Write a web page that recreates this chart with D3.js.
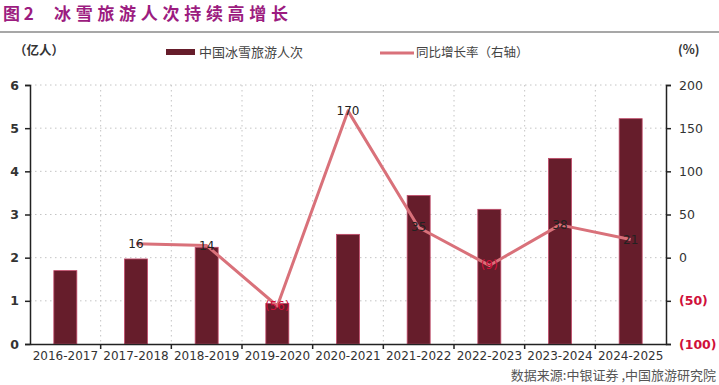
<!DOCTYPE html>
<html>
<head>
<meta charset="utf-8">
<script src="https://cdn.jsdelivr.net/npm/d3@7"></script>
<style>
  body { margin: 0; background: #fff; }
  svg { display: block; font-family: "Noto Sans CJK SC", "DejaVu Sans", sans-serif; }
</style>
</head>
<body>
<div id="chart"></div>
<script>
const seasons = ["2016-2017", "2017-2018", "2018-2019", "2019-2020", "2020-2021",
  "2021-2022", "2022-2023", "2023-2024", "2024-2025"];
const visitors = [1.7, 1.97, 2.24, 0.94, 2.54, 3.44, 3.12, 4.3, 5.22];
const growth = [null, 16, 14, -56, 170, 35, -9, 38, 21];
const leftTicks = [0, 1, 2, 3, 4, 5, 6];
const rightTicks = [-100, -50, 0, 50, 100, 150, 200];

const width = 719, height = 385;
const margin = { top: 85, right: 53, bottom: 41, left: 30 };

const svg = d3.select("#chart").append("svg")
  .attr("width", width).attr("height", height);

// title
svg.append("text").attr("x", 3).attr("y", 20)
  .attr("fill", "#9c1c80").attr("font-size", 17).attr("font-weight", "bold")
  .text("图 2");
svg.append("text").attr("x", 54).attr("y", 20)
  .attr("fill", "#9c1c80").attr("font-size", 17).attr("font-weight", "bold")
  .attr("letter-spacing", 4.7)
  .text("冰雪旅游人次持续高增长");
svg.append("line").attr("x1", 0).attr("x2", width).attr("y1", 32).attr("y2", 32)
  .attr("stroke", "#8a8a8a").attr("stroke-width", 1.5);

const x = d3.scaleBand().domain(seasons)
  .range([margin.left, width - margin.right]).paddingInner(0).paddingOuter(0);
const yL = d3.scaleLinear().domain([0, 6]).range([height - margin.bottom, margin.top]);
const yR = d3.scaleLinear().domain([-100, 200]).range([height - margin.bottom, margin.top]);

// grid
const grid = svg.append("g").attr("stroke", "#c4c4c4").attr("stroke-dasharray", "1.5,3.5");
grid.selectAll("line.h").data(leftTicks.slice(1)).join("line")
  .attr("x1", margin.left).attr("x2", width - margin.right)
  .attr("y1", d => yL(d)).attr("y2", d => yL(d));
grid.selectAll("line.v").data(seasons.slice(1)).join("line")
  .attr("x1", d => x(d)).attr("x2", d => x(d))
  .attr("y1", margin.top).attr("y2", height - margin.bottom);

// bars
const bw = 23;
svg.append("g").selectAll("rect").data(visitors).join("rect")
  .attr("x", (d, i) => x(seasons[i]) + x.bandwidth() / 2 - bw / 2)
  .attr("width", bw)
  .attr("y", d => yL(d))
  .attr("height", d => yL(0) - yL(d))
  .attr("fill", "#661d2b")
  .attr("stroke", "#c24a6a").attr("stroke-width", 0.8);

// axes
const gl = svg.append("g").attr("transform", `translate(${margin.left},0)`)
  .call(d3.axisLeft(yL).tickValues(leftTicks).tickSize(5).tickPadding(6)
    .tickFormat(d3.format("d")));
gl.select(".domain").attr("stroke", "#222").attr("stroke-width", 1.5);
gl.selectAll(".tick line").attr("stroke", "#222").attr("stroke-width", 1.5);
gl.selectAll(".tick text").attr("font-size", 12.5).attr("font-weight", "bold")
  .attr("fill", "#333").attr("font-family", "DejaVu Sans");

const gr = svg.append("g").attr("transform", `translate(${width - margin.right},0)`)
  .call(d3.axisRight(yR).tickValues(rightTicks).tickSize(5).tickPadding(8)
    .tickFormat(d => d < 0 ? `(${-d})` : d));
gr.select(".domain").attr("stroke", "#222").attr("stroke-width", 1.5);
gr.selectAll(".tick line").attr("stroke", "#222").attr("stroke-width", 1.5);
gr.selectAll(".tick text").attr("font-size", 12.5).attr("font-family", "DejaVu Sans")
  .attr("font-weight", d => d < 0 ? "bold" : "normal")
  .attr("fill", d => d < 0 ? "#d0103a" : "#333");

const gb = svg.append("g").attr("transform", `translate(0,${height - margin.bottom})`)
  .call(d3.axisBottom(x).tickSize(0).tickPadding(7));
gb.select(".domain").attr("stroke", "#222").attr("stroke-width", 1.5);
gb.selectAll(".tick text").attr("font-size", 12).attr("fill", "#333")
  .attr("font-family", "DejaVu Sans");
gb.selectAll("line.sep").data(seasons.slice(1)).join("line")
  .attr("x1", d => x(d)).attr("x2", d => x(d)).attr("y1", 0).attr("y2", 5)
  .attr("stroke", "#222").attr("stroke-width", 1.5);

// growth line
const pts = growth.map((v, i) => ({ v, s: seasons[i] })).filter(d => d.v !== null);
svg.append("path").datum(pts)
  .attr("fill", "none").attr("stroke", "#d9717a").attr("stroke-width", 3)
  .attr("stroke-linejoin", "round")
  .attr("d", d3.line().x(d => x(d.s) + x.bandwidth() / 2).y(d => yR(d.v)));
svg.append("g").selectAll("text").data(pts).join("text")
  .attr("x", d => x(d.s) + x.bandwidth() / 2)
  .attr("y", d => yR(d.v) + 4)
  .attr("text-anchor", "middle")
  .attr("font-size", 12).attr("font-family", "DejaVu Sans")
  .attr("fill", d => d.v < 0 ? "#d0103a" : "#222")
  .text(d => d.v < 0 ? `(${-d.v})` : d.v);

// legend and unit labels
svg.append("text").attr("x", 14).attr("y", 55).attr("font-size", 12.5)
  .attr("font-weight", "bold").attr("fill", "#333").text("（亿人）");
svg.append("rect").attr("x", 166).attr("y", 49).attr("width", 29).attr("height", 6)
  .attr("fill", "#661d2b");
svg.append("text").attr("x", 199).attr("y", 57).attr("font-size", 13)
  .attr("fill", "#444").text("中国冰雪旅游人次");
svg.append("line").attr("x1", 380).attr("x2", 414).attr("y1", 53).attr("y2", 53)
  .attr("stroke", "#d9717a").attr("stroke-width", 3);
svg.append("text").attr("x", 416).attr("y", 57).attr("font-size", 12.5)
  .attr("fill", "#444").text("同比增长率（右轴）");
svg.append("text").attr("x", 678).attr("y", 54).attr("font-size", 12.5)
  .attr("font-weight", "bold").attr("fill", "#333").text("(%)");

// source
svg.append("text").attr("x", 716).attr("y", 380).attr("text-anchor", "end")
  .attr("font-size", 13).attr("fill", "#555").text("数据来源:中银证券 ,中国旅游研究院");
</script>
</body>
</html>
